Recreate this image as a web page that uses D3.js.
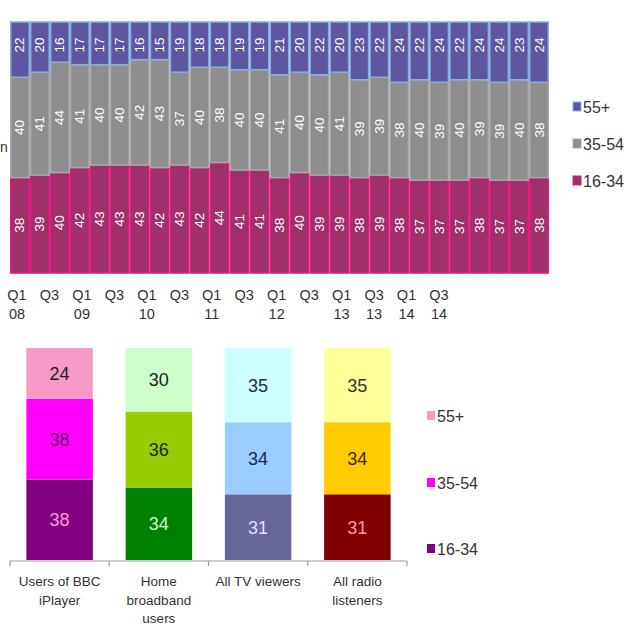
<!DOCTYPE html>
<html><head><meta charset="utf-8">
<script src="https://cdn.jsdelivr.net/npm/d3@7"></script>
<style>body{margin:0;background:#fff}svg{display:block}text{font-family:"Liberation Sans",Arial,sans-serif}</style>
</head><body><svg id="c" width="640" height="638"></svg>
<script>
const quarters = ["Q1 08","Q2 08","Q3 08","Q4 08","Q1 09","Q2 09","Q3 09","Q4 09","Q1 10","Q2 10","Q3 10","Q4 10","Q1 11","Q2 11","Q3 11","Q4 11","Q1 12","Q2 12","Q3 12","Q4 12","Q1 13","Q2 13","Q3 13","Q4 13","Q1 14","Q2 14","Q3 14"];
const age16_34 = [38,39,40,42,43,43,43,42,43,42,44,41,41,38,40,39,39,38,39,38,37,37,37,38,37,37,38];
const age35_54 = [40,41,44,41,40,40,42,43,37,40,38,40,40,41,40,40,41,39,39,38,40,39,40,39,39,40,38];
const age55plus = [22,20,16,17,17,17,16,15,19,18,18,19,19,21,20,22,20,23,22,24,22,24,22,24,24,23,24];
const tickLabels = [["Q1","08"],["Q3",""],["Q1","09"],["Q3",""],["Q1","10"],["Q3",""],["Q1","11"],["Q3",""],["Q1","12"],["Q3",""],["Q1","13"],["Q3","13"],["Q1","14"],["Q3","14"]];
const groups = ["16-34","35-54","55+"];

const categories = [["Users of BBC","iPlayer"],["Home","broadband","users"],["All TV viewers"],["All radio","listeners"]];
const bar16_34 = [38,34,31,31];
const bar35_54 = [38,36,34,34];
const bar55plus = [24,30,35,35];

const svg = d3.select("#c");

// ---------- top chart ----------
const area = {x0:10, x1:549, y0:22, y1:273};
const x = d3.scaleBand().domain(quarters).range([area.x0, area.x1]).padding(0);
const y = d3.scaleLinear().domain([0,100]).range([area.y1, area.y0]);
const topFill = {"16-34":"#a0306a","35-54":"#8e8e8e","55+":"#5e56a0"};
const topStroke = {"16-34":"#e2187e","35-54":"#a9a9a9","55+":"#86aede"};

const rows = quarters.map((q,i)=>({q, "16-34":age16_34[i], "35-54":age35_54[i], "55+":age55plus[i]}));
const stackTop = d3.stack().keys(groups)(rows);
const gTop = svg.append("g");
stackTop.forEach(layer=>{
  const key = layer.key;
  const g = gTop.append("g");
  layer.forEach((d,i)=>{
    const y0v = d[0], y1v = key==="55+" ? 100 : d[1];
    g.append("rect")
      .attr("x", x(quarters[i])+0.75).attr("width", x.bandwidth()-1.5)
      .attr("y", y(y1v)).attr("height", y(y0v)-y(y1v))
      .attr("fill", topFill[key]).attr("stroke", topStroke[key]).attr("stroke-width",1.5);
    const cx = x(quarters[i]) + x.bandwidth()/2;
    const cy = key==="55+" ? y(y1v)+23 : (y(y0v)+y(y1v))/2;
    g.append("text").attr("transform",`translate(${cx+4.5},${cy}) rotate(-90)`)
      .attr("text-anchor","middle").attr("font-size",13.5).attr("fill","#fff")
      .text(d.data[key]);
  });
});

// tick labels (as in the source, spread at their own spacing)
const tx = d3.scalePoint().domain(d3.range(tickLabels.length)).range([17,439]);
const tl = svg.append("g").attr("font-size",14.5).attr("fill","#333").attr("text-anchor","middle");
tickLabels.forEach((t,i)=>{
  tl.append("text").attr("x",tx(i)).attr("y",300).text(t[0]);
  if(t[1]) tl.append("text").attr("x",tx(i)).attr("y",319).text(t[1]);
});
// cropped axis title remnant
svg.append("text").attr("x",0).attr("y",152).attr("font-size",14).attr("fill","#333").text("n");

// top legend
const lgTop = svg.append("g");
[["55+",107],["35-54",144],["16-34",181]].forEach(([k,yy])=>{
  lgTop.append("rect").attr("x",573).attr("y",yy-5).attr("width",8).attr("height",9).attr("fill",topFill[k]).attr("stroke",topStroke[k]).attr("stroke-width",1);
  lgTop.append("text").attr("x",583).attr("y",yy+5.5).attr("font-size",16).attr("fill","#333").text(k);
});

// ---------- bottom chart ----------
const bx = d3.scaleBand().domain(d3.range(categories.length)).range([10,407]).paddingInner(0.33).paddingOuter(0.165);
const by = d3.scaleLinear().domain([0,100]).range([560,348]);
const bFill = [
  {"16-34":"#800080","35-54":"#ff00ff","55+":"#f79ac5"},
  {"16-34":"#008000","35-54":"#99cc00","55+":"#ccffcc"},
  {"16-34":"#666699","35-54":"#99ccff","55+":"#ccffff"},
  {"16-34":"#800000","35-54":"#ffcc00","55+":"#ffff99"}];
const bText = [
  {"16-34":"#ff9adf","35-54":"#6a006a","55+":"#222"},
  {"16-34":"#ccffcc","35-54":"#222","55+":"#222"},
  {"16-34":"#e0e0ff","35-54":"#1a2a4a","55+":"#1a2a4a"},
  {"16-34":"#ff9aaa","35-54":"#3a2a00","55+":"#333"}];
const bRows = categories.map((c,i)=>({i, "16-34":bar16_34[i], "35-54":bar35_54[i], "55+":bar55plus[i]}));
const bStack = d3.stack().keys(groups)(bRows);
const gB = svg.append("g");
bStack.forEach(layer=>{
  layer.forEach((d,i)=>{
    gB.append("rect").attr("x",bx(i)).attr("width",bx.bandwidth())
      .attr("y",by(d[1])).attr("height",by(d[0])-by(d[1]))
      .attr("fill",bFill[i][layer.key]);
    gB.append("text").attr("x",bx(i)+bx.bandwidth()/2).attr("y",(by(d[0])+by(d[1]))/2+6.5)
      .attr("text-anchor","middle").attr("font-size",18).attr("fill",bText[i][layer.key])
      .text(d.data[layer.key]);
  });
});
// axis
const ax = svg.append("g").attr("stroke","#999").attr("stroke-width",1.2);
ax.append("line").attr("x1",10).attr("x2",407).attr("y1",561).attr("y2",561);
[10,109.25,208.5,307.75,407].forEach(v=>ax.append("line").attr("x1",v).attr("x2",v).attr("y1",561).attr("y2",566));
const cl = svg.append("g").attr("font-size",13.5).attr("fill","#333").attr("text-anchor","middle");
categories.forEach((c,i)=>{
  c.forEach((line,j)=>cl.append("text").attr("x",bx(i)+bx.bandwidth()/2).attr("y",586+j*18.5).text(line));
});
// bottom legend
const lgB = svg.append("g");
[["55+",416,"#f79ac5"],["35-54",483,"#ff00ff"],["16-34",549,"#800080"]].forEach(([k,yy,c])=>{
  lgB.append("rect").attr("x",427).attr("y",yy-5).attr("width",8).attr("height",9).attr("fill",c);
  lgB.append("text").attr("x",437).attr("y",yy+5.5).attr("font-size",16).attr("fill","#333").text(k);
});
</script></body></html>
